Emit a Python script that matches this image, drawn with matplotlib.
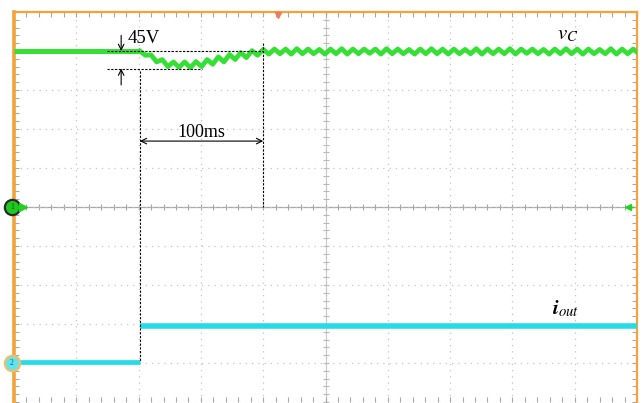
'''
Oscilloscope capture: capacitor voltage v_C and output current i_out
during a load step, redrawn with matplotlib.
'''
import numpy as np
import matplotlib.pyplot as plt

# scope settings
MS_PER_DIV = 50
V_PER_DIV = 100
A_PER_DIV = 5
CH2_OFFSET = -4  # divisions

# v_C trace (V): flat before the step, then ripple turning points every 4.5 ms
vc_pre_time = [0.0, 101.0]
vc_pre = [400, 400]
vc_start = 101.0
vc_dt = 4.5
vc_post = [400, 389, 390, 372, 378, 360, 372, 358, 372, 357,
           373, 360, 378, 366, 385, 372, 391, 378, 396, 383,
           401, 389, 404, 392, 405,
           393, 405, 392, 406, 393, 405, 393, 404, 392, 405,
           393, 406, 392, 405, 393, 405, 394, 405, 392, 406,
           393, 405, 393, 404, 392, 405, 393, 406, 393, 405,
           392, 405, 393, 404, 393, 406, 392, 405, 393, 405,
           393, 406, 392, 405, 394, 405, 393, 404, 392, 405,
           393, 406, 393, 405, 392, 405, 393, 404, 393, 406,
           392, 405, 393, 405, 393]

# i_out trace (A)
i_pre_time = [0.0, 101.0]
i_pre = [0.15, 0.15]
i_post_time = [101.5, 500.0]
i_post = [4.7, 4.7]

# annotation values
v_nom = 400
v_dip = 45
t_step = 101
t_recover = 200

GREEN = '#33e033'
CYAN = '#26dbe8'
ORANGE = '#f2a33a'


def main():
    plt.rcParams['font.family'] = ['Liberation Serif', 'DejaVu Serif']
    plt.rcParams['mathtext.fontset'] = 'stix'

    fig = plt.figure(figsize=(6.43, 4.03), dpi=100)
    ax = fig.add_axes([14 / 643, 1 / 403, 623 / 643, 390 / 403])
    ax.set_xlim(0, 10 * MS_PER_DIV)
    ax.set_ylim(-5, 5)

    # graticule
    ax.set_xticks(np.arange(0, 501, MS_PER_DIV))
    ax.set_xticks(np.arange(0, 501, MS_PER_DIV / 5), minor=True)
    ax.set_yticks(np.arange(-5, 6, 1))
    ax.set_yticks(np.arange(-5, 5.01, 0.2), minor=True)
    ax.tick_params(which='both', direction='in', length=3.5, width=0.8,
                   colors='#a8a8a8', top=True, right=True,
                   labelleft=False, labelbottom=False)
    ax.grid(True, which='major', color='#c4c4c4', linestyle=(0, (1, 4)), lw=0.9)
    ax.axhline(0, color='#a8a8a8', lw=0.9, zorder=1)
    ax.axvline(250, color='#c8c8c8', lw=0.8, zorder=1)
    xm = np.arange(0, 501, MS_PER_DIV / 5)
    ym = np.arange(-5, 5.01, 0.2)
    ax.plot(xm, np.zeros_like(xm), ls='none', marker='|', ms=5, mew=0.8,
            color='#a8a8a8', zorder=1)
    ax.plot(np.full_like(ym, 250), ym, ls='none', marker='_', ms=5, mew=0.8,
            color='#b8b8b8', zorder=1)

    for side in ['left', 'top', 'right']:
        ax.spines[side].set_color(ORANGE)
        ax.spines[side].set_linewidth(1.6)
    ax.spines['left'].set_linewidth(2.6)
    ax.spines['bottom'].set_visible(False)

    # traces
    vc_time = vc_start + vc_dt * np.arange(len(vc_post))
    ax.plot(vc_pre_time, np.array(vc_pre) / V_PER_DIV, color=GREEN, lw=3.6,
            solid_capstyle='butt', zorder=3)
    ax.plot(vc_time, np.array(vc_post) / V_PER_DIV, color=GREEN, lw=3.4,
            solid_joinstyle='round', zorder=3)
    ax.plot(i_pre_time, CH2_OFFSET + np.array(i_pre) / A_PER_DIV, color=CYAN,
            lw=3.4, solid_capstyle='butt', zorder=3)
    ax.plot(i_post_time, CH2_OFFSET + np.array(i_post) / A_PER_DIV, color=CYAN,
            lw=4.0, solid_capstyle='butt', zorder=3)

    # channel markers
    ax.plot(-1.8, 0, marker='o', ms=11, mfc='#22c822', mec='#2a2a2a', mew=1.6,
            clip_on=False, zorder=5)
    ax.plot(7.5, 0, marker='>', ms=6, color='#22d022', clip_on=False, zorder=5)
    ax.text(-1.8, 0, '1', fontsize=5.5, ha='center', va='center', color='#105010',
            zorder=6)
    ax.plot(-1.8, CH2_OFFSET, marker='o', ms=11, mfc='#5ee6ef', mec='#f2bc6a',
            mew=1.6, clip_on=False, zorder=5)
    ax.text(-1.8, CH2_OFFSET, '2', fontsize=5.5, ha='center', va='center',
            color='#205060', zorder=6)
    ax.plot(492.5, 0, marker='<', ms=4, color='#22d022', zorder=5)
    ax.plot([492.5, 497], [0, 0], color='#22d022', lw=1, zorder=5)
    ax.plot(212, 4.93, marker='v', ms=5, color='#f07a5a', clip_on=False, zorder=5)

    # annotations
    v_top = v_nom / V_PER_DIV
    v_low = (v_nom - v_dip) / V_PER_DIV
    dash = (0, (2.0, 1.4))
    ax.plot([75, t_recover], [v_top, v_top], color='k', lw=0.8, ls=dash, zorder=4)
    ax.plot([75, 151], [v_low, v_low], color='k', lw=0.8, ls=dash, zorder=4)
    ax.plot([t_step, t_step], [v_low - 0.05, CH2_OFFSET + i_pre[0] / A_PER_DIV],
            color='k', lw=0.8, ls=dash, zorder=4)
    ax.plot([t_recover, t_recover], [v_top + 0.2, 0], color='k', lw=0.8, ls=dash,
            zorder=4)
    ax.annotate('', xy=(86, v_top), xytext=(86, v_top + 0.4),
                arrowprops=dict(arrowstyle='->', lw=0.8, color='k',
                                shrinkA=0, shrinkB=0))
    ax.annotate('', xy=(86, v_low), xytext=(86, v_low - 0.42),
                arrowprops=dict(arrowstyle='->', lw=0.8, color='k',
                                shrinkA=0, shrinkB=0))
    ax.text(91.5, 4.2, '%dV' % v_dip, fontsize=13.5, va='baseline')
    ax.annotate('', xy=(t_step, 1.69), xytext=(t_recover, 1.69),
                arrowprops=dict(arrowstyle='<->', lw=0.8, color='k',
                                shrinkA=0, shrinkB=0))
    ax.text((t_step + t_recover) / 2, 1.8, '%dms' % (t_recover - t_step + 1),
            fontsize=13, ha='center', va='baseline')
    ax.text(436, 4.3, r'$v_C$', fontsize=15, va='baseline')
    ax.text(432, -2.76, r'$\mathbfit{i}_{out}$', fontsize=15, va='baseline')

    fig.savefig('out.png', dpi=100, facecolor='white')


if __name__ == '__main__':
    main()
